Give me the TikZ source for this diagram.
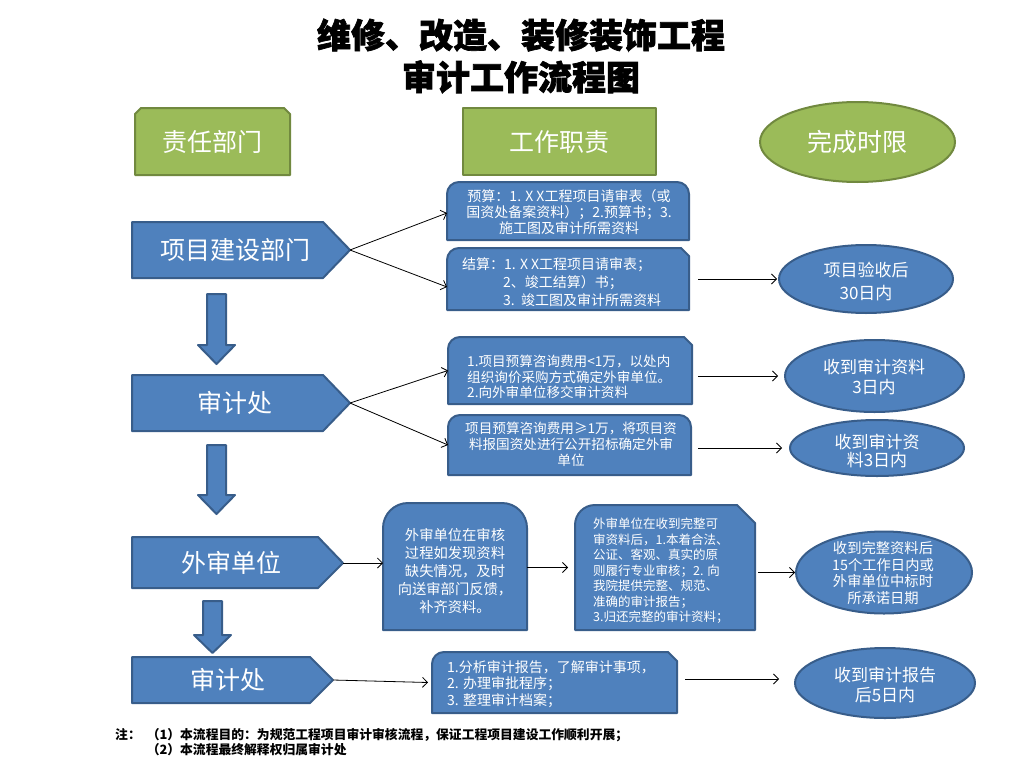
\documentclass[tikz,border=0pt]{standalone}
\usepackage{fontspec}
\setmainfont{Noto Sans CJK SC}
\newfontfamily\rstitlefont{Noto Sans CJK SC}[BoldFeatures={FakeBold=2}]
\usetikzlibrary{arrows.meta,shapes.geometric}
\definecolor{bfill}{HTML}{4F81BD}
\definecolor{bdraw}{HTML}{385D8A}
\definecolor{gfill}{HTML}{9BBB59}
\definecolor{gdraw}{HTML}{71893F}
\tikzset{
  bluebox/.style={fill=bfill, draw=bdraw, line width=2pt, line join=round},
  greenbox/.style={fill=gfill, draw=gdraw, line width=2pt, line join=round},
  holder/.style={draw=none, inner sep=0pt, outer sep=0pt},
  conn/.style={draw=black, line width=0.8pt, -{Straight Barb[length=5pt,width=10pt]}},
  bigtxt/.style={text=white, font=\fontsize{25}{30}\selectfont, inner sep=0pt},
  boxtxt/.style={text=white, inner sep=0pt},
  ellbox/.style={ellipse, fill=bfill, draw=bdraw, line width=2pt, inner sep=0pt},
}
\newcommand\rsRoundSnip[6]{%
  \draw[bluebox] (#1,#4) -- (#1,#2+#5) .. controls (#1,#2+0.448*#5) and (#1+0.448*#5,#2) .. (#1+#5,#2)
    -- (#3-#6,#2) -- (#3,#2+#6) -- (#3,#4) -- cycle;}
\newcommand\rsRoundRound[5]{%
  \draw[bluebox] (#1,#4) -- (#1,#2+#5) .. controls (#1,#2+0.448*#5) and (#1+0.448*#5,#2) .. (#1+#5,#2)
    -- (#3-#5,#2) .. controls (#3-0.448*#5,#2) and (#3,#2+0.448*#5) .. (#3,#2+#5) -- (#3,#4) -- cycle;}
\begin{document}
\begin{tikzpicture}[x=1pt,y=-1pt]
\useasboundingbox[fill=white] (0,0) rectangle (1024,768);

% title
\node[inner sep=0pt, align=center, font=\rstitlefont\bfseries\fontsize{34}{42}\selectfont] (title) at (521,56)
  {维修、改造、装修装饰工程\\审计工作流程图};

% headers
\draw[greenbox] (135,175) -- (135,114) -- (141,108) -- (284,108) -- (290,114) -- (290,175) -- cycle;
\node[bigtxt] (h1) at (212.5,142) {责任部门};
\draw[greenbox] (463,108) rectangle (656,175);
\node[bigtxt] (h2) at (559.5,142) {工作职责};
\node[ellipse, fill=gfill, draw=gdraw, line width=2pt, minimum width=195, minimum height=80, inner sep=0pt] (h3) at (857.5,142) {};
\node[bigtxt] (h3t) at (h3.center) {完成时限};

% left pentagons
\draw[bluebox] (132,222) -- (323,222) -- (350,250) -- (323,278) -- (132,278) -- cycle;
\node[bigtxt] (P1) at (235,250) {项目建设部门};
\coordinate (P1t) at (350,250);
\draw[bluebox] (132,375) -- (323,375) -- (350,403) -- (323,431) -- (132,431) -- cycle;
\node[bigtxt] (P2) at (235,403) {审计处};
\coordinate (P2t) at (350,403);
\draw[bluebox] (132,537) -- (318,537) -- (343,563) -- (318,588) -- (132,588) -- cycle;
\node[bigtxt] (P3) at (231,563) {外审单位};
\coordinate (P3t) at (343,563);
\draw[bluebox] (132,657) -- (310,657) -- (333,680) -- (310,703) -- (132,703) -- cycle;
\node[bigtxt] (P4) at (228,680) {审计处};
\coordinate (P4t) at (333,680);

% down block arrows
\draw[bluebox] (207,294) -- (226,294) -- (226,345) -- (235,345) -- (216.5,364) -- (198,345) -- (207,345) -- cycle;
\draw[bluebox] (207,445) -- (226,445) -- (226,495) -- (235,495) -- (216.5,514) -- (198,495) -- (207,495) -- cycle;
\draw[bluebox] (203,601) -- (222,601) -- (222,635) -- (231,635) -- (212.5,653) -- (194,635) -- (203,635) -- cycle;

% middle boxes
\rsRoundRound{447}{182}{689}{240}{12}
\node[holder, minimum width=242, minimum height=58] (A) at (568,211) {};
\node[boxtxt, align=center, font=\fontsize{14}{16}\selectfont] (At) at (569,212)
  {预算：1. X X工程项目请审表（或\\国资处备案资料）；2.预算书；3.\\施工图及审计所需资料};

\rsRoundSnip{447}{248}{689}{310}{12}{8}
\node[holder, minimum width=242, minimum height=62] (B) at (568,279) {};
\node[boxtxt, align=left, anchor=west, font=\fontsize{14}{18}\selectfont] (Bt) at (462,282)
  {结算：1. X X工程项目请审表；\\\hspace*{41pt}2、竣工结算）书；\\\hspace*{41pt}3.\ \ 竣工图及审计所需资料};

\rsRoundSnip{448}{337}{692}{404}{12}{8}
\node[holder, minimum width=244, minimum height=67] (C) at (570,370.5) {};
\node[boxtxt, align=left, anchor=west, font=\fontsize{13.6}{15.5}\selectfont] (Ct) at (467,377)
  {1.项目预算咨询费用<1万，以处内\\组织询价采购方式确定外审单位。\\2.向外审单位移交审计资料};

\rsRoundRound{448}{415}{691}{475}{12}
\node[holder, minimum width=243, minimum height=60] (D) at (569.5,445) {};
\node[boxtxt, align=center, font=\fontsize{13.6}{16}\selectfont] (Dt) at (571,444)
  {项目预算咨询费用≥1万，将项目资\\料报国资处进行公开招标确定外审\\单位};

\rsRoundRound{383}{503}{527}{630}{25}
\node[holder, minimum width=144, minimum height=127] (E) at (455,566.5) {};
\node[boxtxt, align=center, font=\fontsize{14.3}{18}\selectfont] (Et) at (455,571)
  {外审单位在审核\\过程如发现资料\\缺失情况，及时\\向送审部门反馈，\\补齐资料。};

\rsRoundSnip{575}{505}{755}{630}{20}{18}
\node[holder, minimum width=180, minimum height=125] (F) at (665,567.5) {};
\node[boxtxt, align=left, anchor=west, font=\fontsize{12.5}{15.5}\selectfont] (Ft) at (593,571)
  {外审单位在收到完整可\\审资料后，1.本着合法、\\公证、客观、真实的原\\则履行专业审核；2. 向\\我院提供完整、规范、\\准确的审计报告；\\3.归还完整的审计资料；};

\rsRoundSnip{432}{652}{677}{713}{12}{9}
\node[holder, minimum width=245, minimum height=61] (G) at (554.5,682.5) {};
\node[boxtxt, align=left, anchor=west, font=\fontsize{14}{16.5}\selectfont] (Gt) at (447,684)
  {1.分析审计报告，了解审计事项，\\2. 办理审批程序；\\3. 整理审计档案；};

% right ellipses
\node[ellbox, minimum width=174, minimum height=68] (E1) at (866,279) {};
\node[boxtxt, align=center, font=\fontsize{17}{23}\selectfont] (E1t) at (866,281) {项目验收后\\30日内};
\node[ellbox, minimum width=179, minimum height=72] (E2) at (874.5,376) {};
\node[boxtxt, align=center, font=\fontsize{17}{20}\selectfont] (E2t) at (874,377) {收到审计资料\\3日内};
\node[ellbox, minimum width=174, minimum height=56] (E3) at (877,448) {};
\node[boxtxt, align=center, font=\fontsize{17}{18.5}\selectfont] (E3t) at (877,451) {收到审计资\\料3日内};
\node[ellbox, minimum width=176, minimum height=82] (E4) at (884,572.5) {};
\node[boxtxt, align=center, font=\fontsize{14.3}{16.7}\selectfont] (E4t) at (883,573) {收到完整资料后\\15个工作日内或\\外审单位中标时\\所承诺日期};
\node[ellbox, minimum width=180, minimum height=70] (E5) at (885,683) {};
\node[boxtxt, align=center, font=\fontsize{17}{20}\selectfont] (E5t) at (885,685) {收到审计报告\\后5日内};

% connectors
\draw[conn] (P1t) -- ([yshift=-2pt]A.west);
\draw[conn] (P1t) -- ([yshift=-8pt]B.west);
\draw[conn] ([xshift=9pt]B.east) -- ([xshift=-1pt]E1.west);
\draw[conn] (P2t) -- ([yshift=0pt]C.west);
\draw[conn] (P2t) -- ([yshift=0pt]D.west);
\draw[conn] ([xshift=6pt]C.east |- E2.west) -- ([xshift=-6pt]E2.west);
\draw[conn] ([xshift=7pt]D.east |- E3.west) -- ([xshift=-7pt]E3.west);
\draw[conn] (P3t) -- (E.west |- P3t);
\draw[conn] (E.east |- F.west) -- ([xshift=-7pt]F.west);
\draw[conn] ([xshift=3pt]F.east |- E4.west) -- (E4.west);
\draw[conn] (P4t) -- ([xshift=-4pt]G.west);
\draw[conn] ([xshift=8pt]G.east |- 0,679) -- ([xshift=-15pt]E5.west |- 0,679);

% notes
\node[inner sep=0pt, anchor=north west, align=left, font=\bfseries\fontsize{12.8}{15}\selectfont] (notes) at (115,728)
  {注：\hspace*{6pt}（1）本流程目的：为规范工程项目审计审核流程，保证工程项目建设工作顺利开展；\\\hspace*{31.6pt}（2）本流程最终解释权归属审计处};
\end{tikzpicture}
\end{document}
